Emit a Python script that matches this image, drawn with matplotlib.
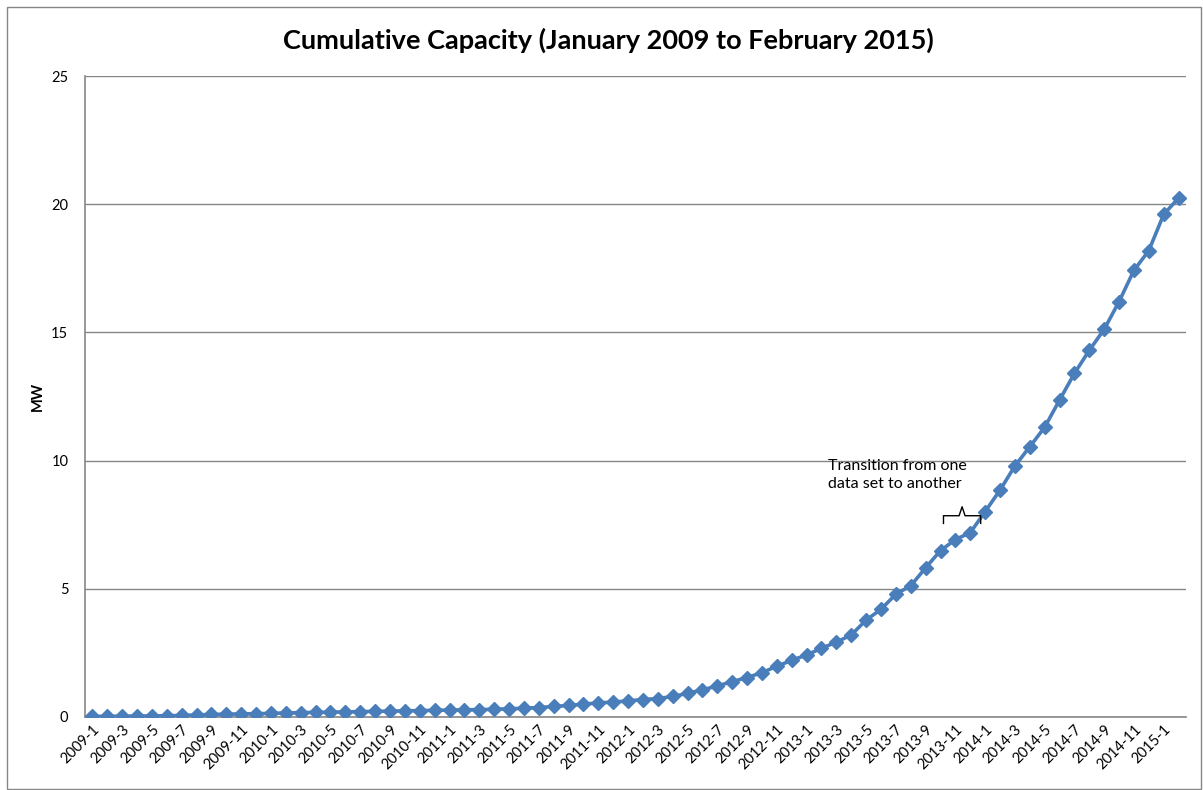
import numpy as np
import matplotlib
matplotlib.use('Agg')
import matplotlib.pyplot as plt
from matplotlib.patches import Rectangle

plt.rcParams['font.family'] = ['Lato', 'DejaVu Sans']

# monthly cumulative capacity, MW, Jan 2009 - Feb 2015
mw_2009 = [0.02, 0.03, 0.03, 0.04, 0.04, 0.05, 0.06, 0.08, 0.10, 0.11, 0.12, 0.13]
mw_2010 = [0.14, 0.16, 0.17, 0.18, 0.19, 0.20, 0.21, 0.22, 0.23, 0.24, 0.25, 0.26]
mw_2011 = [0.27, 0.28, 0.29, 0.30, 0.32, 0.34, 0.37, 0.41, 0.45, 0.50, 0.55, 0.58]
mw_2012 = [0.63, 0.68, 0.72, 0.80, 0.92, 1.06, 1.21, 1.38, 1.54, 1.73, 1.98, 2.21]
mw_2013 = [2.42, 2.68, 2.92, 3.20, 3.78, 4.20, 4.79, 5.12, 5.82, 6.49, 6.92, 7.19]
mw_2014 = [8.01, 8.85, 9.79, 10.54, 11.30, 12.36, 13.40, 14.30, 15.12, 16.20, 17.42, 18.19]
mw_2015 = [19.60, 20.24]

capacity = mw_2009 + mw_2010 + mw_2011 + mw_2012 + mw_2013 + mw_2014 + mw_2015
months = []
for y in range(2009, 2016):
    for m in range(1, 13):
        months.append('%d-%d' % (y, m))
months = months[:len(capacity)]

# months between which the data source changes
transition = ['2013-10', '2014-1']

x = np.arange(len(capacity))

fig = plt.figure(figsize=(12.03, 7.90), dpi=100)
ax = fig.add_axes([85 / 1203, 1 - 717 / 790, (1186 - 85) / 1203, (717 - 76) / 790])

ax.plot(x, capacity, color='#4A7EBB', lw=2.6, marker='D', markersize=7,
        markerfacecolor='#4A7EBB', markeredgecolor='#4A7EBB', zorder=3)

ax.set_xlim(-0.5, len(capacity) - 0.5)
ax.set_ylim(0, 25)
ax.set_yticks([0, 5, 10, 15, 20, 25])
ax.yaxis.grid(True, color='#868686', lw=1)
ax.set_axisbelow(True)
ax.set_xticks(x[::2])
ax.set_xticklabels(months[::2], rotation=45, ha='right', rotation_mode='anchor', fontsize=10.5)
ax.tick_params(axis='y', labelsize=10.5, length=0, pad=12)
ax.tick_params(axis='x', length=0, pad=4)
for s in ['top', 'right']:
    ax.spines[s].set_visible(False)
for s in ['left', 'bottom']:
    ax.spines[s].set_color('#868686')
    ax.spines[s].set_linewidth(1.2)

ax.set_ylabel('MW', fontsize=10.5, fontweight='bold')
ax.yaxis.set_label_coords(-40 / 1101, 0.5)
fig.text(0.506, 1 - 40 / 790, 'Cumulative Capacity (January 2009 to February 2015)',
         ha='center', va='center', fontsize=19.5, fontweight='bold')

# bracket over the transition months
i0 = months.index(transition[0]) + 0.2
i1 = months.index(transition[1]) - 0.3
mid = (i0 + i1) / 2
ax.plot([i0, i0, mid - 0.2, mid, mid + 0.2, i1, i1],
        [7.55, 7.85, 7.85, 8.2, 7.85, 7.85, 7.55], color='black', lw=1, zorder=4)
ax.text(i0 - 7.75, 10.05, 'Transition from one\ndata set to another',
        ha='left', va='top', fontsize=11.5, linespacing=1.3)

# outer chart frame
fig.patches.append(Rectangle((7 / 1203, 1 / 790), 1194 / 1203, 782 / 790,
                             transform=fig.transFigure, fill=False,
                             edgecolor='#868686', lw=1))

fig.savefig('out.png', dpi=100)
